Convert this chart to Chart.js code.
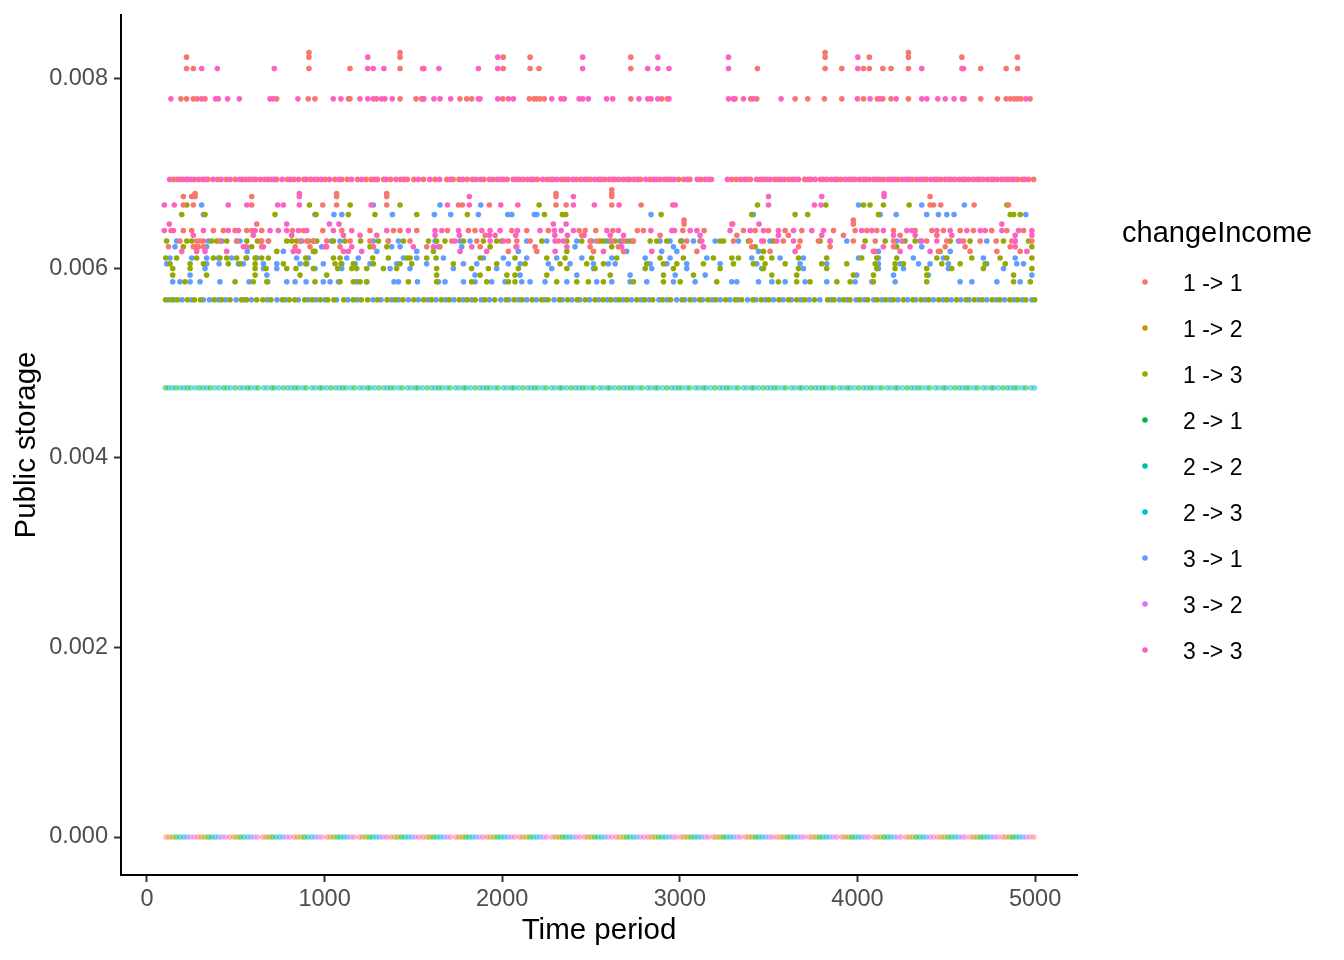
<!DOCTYPE html>
<html><head><meta charset="utf-8">
<script src="https://cdn.jsdelivr.net/npm/chart.js@4.4.1/dist/chart.umd.min.js"></script>
<style>html,body{margin:0;padding:0;background:#fff;overflow:hidden}canvas{display:block}</style>
</head><body>
<canvas id="c" width="1344" height="960" style="width:1344px;height:960px"></canvas>
<script>
// ---------- categories / legend ----------
const seriesNames = ["1 -> 1","1 -> 2","1 -> 3","2 -> 1","2 -> 2","2 -> 3","3 -> 1","3 -> 2","3 -> 3"];
const seriesColors = ["#F8766D","#D39200","#93AA00","#00BA38","#00C19F","#00B9E3","#619CFF","#DB72FB","#FF61C3"];
const legendTitle = "changeIncome";
const xTitle = "Time period";
const yTitle = "Public storage";
const xTicks = [0,1000,2000,3000,4000,5000];
const yTicks = [0,0.002,0.004,0.006,0.008];

// ---------- series values: rows of [public storage, [time periods]] ----------
const pts_1to1 = [
 [0.00828,[912,1425,3818,4287]],
 [0.00823,[223,912,1425,2006,2157,2724,3818,4067,4287,4588,4901]],
 [0.00811,[223,261,912,1143,1425,1559,2006,2157,2207,2724,3437,3818,3912,4034,4067,4143,4189,4287,4588,4694,4837,4901]],
 [0.00779,[191,223,261,283,327,730,908,946,1134,1143,1293,1425,1515,1547,1559,1762,1800,1828,2003,2153,2179,2194,2213,2237,2724,2898,2930,3305,3311,3399,3433,3649,3720,3814,3912,4034,4112,4143,4189,4287,4591,4694,4788,4837,4860,4882,4901,4920,4972]],
 [0.00694,[150,172,204,233,268,312,343,398,447,497,538,577,612,662,703,731,792,828,884,921,962,1003,1058,1097,1128,1186,1233,1262,1298,1333,1372,1428,1466,1503,1557,1622,1688,1724,1757,1803,1852,1897,1948,1993,2028,2081,2118,2163,2198,2252,2287,2333,2372,2418,2463,2497,2543,2578,2623,2657,2703,2742,2778,2832,2868,2912,2948,2993,3022,3057,3118,3163,3292,3318,3363,3398,3452,3487,3533,3568,3612,3648,3703,3738,3792,3828,3873,3908,3952,3988,4033,4068,4112,4148,4192,4228,4273,4308,4352,4388,4433,4468,4512,4548,4592,4628,4673,4708,4752,4788,4833,4868,4902,4928,4963,4992]],
 [0.00683,[2617]],
 [0.00679,[271,1068,1350,2303,2617]],
 [0.00676,[205,252,271,590,1068,1350,2303,2617,4409]],
 [0.00667,[205,261,590,990,1068,1350,1754,1776,1928,2303,2360,2617,2782,4409,4428,4469,4657,4850]],
 [0.00651,[3024,3977]],
 [0.00647,[618,3024,3298,3977]],
 [0.00640,[136,205,252,374,430,496,562,590,646,819,881,990,1097,1256,1388,1425,1519,1692,1810,1847,2054,2138,2260,2433,2467,2527,2623,2761,2795,3017,3137,3358,3424,3499,3593,3687,3865,3987,4053,4109,4203,4325,4419,4484,4578,4653,4756,4841,4935]],
 [0.00635,[1904,2448,2889,3321,3611,3921,4240,4447]],
 [0.00629,[186,280,299,318,411,505,646,684,862,900,937,1012,1144,1256,1359,1481,1716,1857,2035,2082,2157,2317,2495,2532,2739,3039,3302,3396,3471,3583,3677,3780,3977,4100,4203,4390,4503,4597,4691,4781,4869,4982]],
 [0.00623,[121,261,289,318,646,834,918,1012,1087,1275,1575,1650,1876,2078,2185,2495,2654,3020,3133,3405,3668,3846,4203,4494,4606,4860]],
 [0.00618,[2035,2195,2514,2683,3096,3508,4100,4456,4634,4785,4916]]
];
const pts_3to3 = [
 [0.00823,[1243,1975,2453,2876,3274,4002]],
 [0.00811,[308,396,717,1243,1274,1334,1552,1644,1866,1975,2453,2819,2876,2939,3274,4002,4362,4597]],
 [0.00779,[135,308,387,402,454,520,693,711,850,1049,1092,1199,1243,1274,1321,1340,1381,1556,1616,1650,1710,1866,1875,1975,2035,2063,2279,2331,2350,2433,2453,2485,2588,2622,2770,2819,2838,2876,2939,3274,3302,3358,3414,3570,4000,4071,4127,4218,4362,4391,4452,4494,4544,4601,4948]],
 [0.00694,[128,188,222,251,291,328,372,418,468,522,558,597,638,681,718,762,808,853,898,943,982,1028,1082,1152,1208,1281,1348,1402,1448,1528,1592,1648,1708,1778,1832,1878,1928,1972,2008,2062,2098,2142,2178,2228,2272,2308,2352,2398,2442,2478,2522,2558,2602,2638,2682,2718,2762,2808,2852,2888,2932,2968,3042,3098,3142,3178,3268,3342,3378,3432,3472,3508,3552,3588,3632,3668,3722,3762,3808,3852,3888,3932,3968,4012,4048,4092,4128,4172,4208,4252,4288,4332,4368,4412,4448,4492,4528,4572,4608,4652,4688,4732,4768,4812,4848,4882,4942]],
 [0.00679,[858,4150]],
 [0.00676,[858,1815,2401,3499,3799,4150]],
 [0.00667,[98,154,458,562,736,768,858,1262,1692,1815,1992,2088,2401,2519,2658,2960,2974,3499,3758,3795]],
 [0.00647,[126,787,1027,1081,2288,2360,3293,3446,4813]],
 [0.00640,[98,149,318,458,515,609,693,740,787,853,900,1050,1153,1350,1472,1622,1660,1754,1885,1932,1988,2086,2213,2294,2332,2401,2589,2654,2837,2955,2970,3058,3096,3283,3396,3471,3555,3640,3743,3809,4024,4081,4146,4278,4306,4447,4522,4616,4691,4719,4813,4907,4982]],
 [0.00635,[261,599,815,1106,1200,1294,1622,1759,1928,1960,2076,2296,2367,2461,2608,2683,3114,3555,3799,4203,4325,4531,4888,4982]],
 [0.00629,[1735,1932,2007,2298,2345,2617,2683,3124,3461,3546,3640,3846,4250,4362,4447,4578,4888]],
 [0.00623,[543,562,656,1003,1153,1500,1613,1829,2082,2364,2673,3133,4034,4146,4296,4888]],
 [0.00618,[196,280,327,449,824,853,1106,1134,1209,1763,1913,2298,2570,2842,3649,4090,4240,4409,4954]]
];
const pts_1to3 = [
 [0.00667,[224,915,1144,1425,2208,3437,3822,4034,4071,4146,4291,4841]],
 [0.00657,[196,327,721,952,1134,1284,1519,1804,2238,2339,2358,2895,3405,3649,3720,4118,4860,4879,4916]],
 [0.00629,[111,224,252,364,393,449,562,622,641,787,815,843,909,956,1050,1115,1203,1303,1359,1444,1585,1631,1678,1782,1894,1969,1997,2223,2364,2448,2551,2570,2608,2636,2673,2701,2735,2833,2870,2927,3005,3114,3227,3246,3386,3527,3790,3846,4043,4156,4268,4325,4522,4634,4822,4963]],
 [0.00623,[205,271,590,1256,1350,1932,2617,3424,4221,4982]],
 [0.00618,[731,937,946,1613,2364,3471,4465]],
 [0.00611,[106,167,280,374,411,449,505,558,609,646,684,894,1050,1087,1271,1359,1463,1481,1575,1628,1876,2072,2251,2354,2504,2645,2889,3020,3189,3293,3330,3461,3518,3668,3827,4024,4109,4221,4447,4503,4644,4803,4982]],
 [0.00605,[130,243,318,458,524,609,768,894,1059,1093,1162,1275,1425,1491,1725,1969,2129,2326,2476,2570,2814,2908,2983,3133,3302,3414,3480,3593,3799,3940,4100,4212,4259,4475,4578,4719,4832]],
 [0.00600,[145,243,609,671,787,839,937,1074,1153,1181,1237,1331,1406,1631,1828,1922,2091,2364,2523,2805,2964,3227,3471,3668,3827,4109,4212,4390,4531,4709,4982]],
 [0.00593,[145,336,609,862,1012,1631,1876,2026,2072,2251,2608,2908,3077,3518,3658,3977,4090,4390,4879]],
 [0.00586,[214,496,599,675,946,1087,1162,1200,1237,1472,1631,1828,1913,2035,2072,2307,2420,2485,2570,2739,2908,3002,3208,3555,3658,3733,3884,3959,4090,4390,4879,4973]],
 [0.00567,[105,140,172,228,268,302,378,421,468,532,561,618,652,698,762,801,832,888,931,976,1018,1052,1108,1162,1207,1242,1298,1352,1398,1442,1502,1558,1603,1658,1702,1758,1803,1848,1902,1958,2022,2068,2112,2168,2222,2258,2322,2368,2422,2468,2522,2568,2612,2658,2702,2758,2802,2848,2902,2948,3012,3058,3112,3158,3202,3258,3312,3348,3412,3458,3502,3558,3612,3658,3702,3758,3832,3868,3922,3958,4012,4058,4112,4158,4202,4258,4312,4358,4402,4458,4502,4558,4612,4658,4702,4758,4802,4858,4902,4948,4998]]
];
const pts_3to1 = [
 [0.00667,[308,1275,1650,1879,4006,4362,4602]],
 [0.00657,[318,946,1053,1097,1382,1618,1710,1866,2031,2054,2181,2195,2838,3414,4128,4218,4390,4456,4503,4544,4948]],
 [0.00629,[167,346,421,505,524,684,871,937,1040,1087,1275,1416,1622,1763,1819,2138,2251,2420,2504,2589,2664,2720,2889,2945,3011,3077,3199,3330,3508,3940,4221,4353,4569,4728,4888]],
 [0.00623,[158,336,984,1378,1425,1641,1772,2410,2964,4362]],
 [0.00618,[565,768,1294,1519,2091,2701,2898,2983,3443,4118,4522]],
 [0.00611,[130,252,336,402,477,562,618,843,909,1125,1190,1444,1519,1669,1894,2007,2138,2307,2448,2617,2805,2945,3152,3405,3565,3696,4006,4118,4315,4484,4709,4888]],
 [0.00605,[112,336,406,515,543,656,731,862,900,993,1097,1172,1256,1406,1575,1782,1857,2035,2101,2260,2382,2514,2598,2636,2833,2927,3039,3227,3433,3677,3827,4118,4240,4344,4409,4512,4728,4897,4935]],
 [0.00600,[327,656,731,946,1097,1369,1481,1725,1969,2279,2514,2842,3039,3461,3696,4118,4259,4512,4822]],
 [0.00593,[243,675,1847,2101,2420,2720,2974,3143,3996,4203,4399,4982]],
 [0.00586,[145,186,243,299,411,575,680,787,834,896,993,1031,1078,1181,1237,1391,1416,1523,1641,1678,1782,1847,1941,2016,2110,2157,2241,2364,2532,2617,2720,2814,2964,3086,3292,3321,3443,3518,3593,3705,3827,3987,4081,4212,4578,4644,4785,4916]],
 [0.00567,[121,153,198,252,318,352,402,443,502,547,588,678,732,778,852,908,952,1002,1068,1132,1183,1272,1318,1377,1418,1472,1528,1582,1628,1682,1728,1782,1828,1882,1928,1992,2038,2092,2138,2192,2238,2292,2338,2392,2438,2492,2543,2592,2638,2682,2728,2782,2828,2882,2928,2982,3028,3082,3128,3182,3228,3282,3328,3382,3428,3482,3528,3582,3628,3682,3728,3788,3852,3898,3942,3992,4038,4092,4138,4182,4228,4282,4328,4382,4428,4482,4528,4582,4628,4682,4728,4782,4828,4882,4928,4982]]
];
// faint rows (public storage 0.00474 and 0)
const pts_2to1_faint = [
 [0.00474,[104,163,228,296,357,433,498,566,627,703,768,834,897,972,1037,1103,1168,1243,1307,1372,1438,1512,1578,1643,1707,1783,1848,1913,1977,2052,2117,2183,2248,2323,2388,2452,2517,2593,2658,2723,2788,2862,2927,2993,3057,3132,3197,3263,3328,3403,3468,3532,3597,3673,3738,3803,3867,3942,4007,4073,4138,4213,4278,4342,4407,4483,4548,4613,4677,4753,4818,4883,4948]],
 [0,[166,346,527,707,887,1071,1252,1432,1613,1795,1972,2156,2340,2521,2701,2881,3063,3245,3426,3606,3786,3968,4150,4331,4512,4693,4874]]
];
const pts_2to2_faint = [
 [0.00474,[122,187,248,318,383,452,523,583,657,718,792,853,928,988,1062,1122,1197,1258,1333,1392,1467,1528,1603,1662,1737,1798,1873,1932,2007,2068,2143,2202,2277,2338,2412,2472,2547,2608,2682,2742,2817,2878,2952,3012,3087,3148,3222,3282,3357,3418,3492,3552,3627,3688,3762,3822,3897,3958,4032,4092,4167,4228,4302,4362,4437,4498,4572,4632,4707,4768,4842,4902,4977]],
 [0,[187,365,546,727,906,1090,1271,1452,1632,1814,1992,2175,2359,2540,2720,2901,3083,3264,3445,3625,3806,3987,4169,4351,4531,4712,4893]]
];
const pts_2to3_faint = [
 [0.00474,[142,207,272,338,407,472,542,608,677,742,812,878,947,1012,1083,1148,1217,1282,1352,1418,1487,1552,1622,1688,1757,1822,1892,1958,2027,2092,2162,2228,2297,2362,2432,2498,2567,2632,2702,2768,2837,2902,2972,3038,3107,3172,3242,3308,3377,3442,3512,3578,3647,3712,3782,3848,3917,3982,4052,4118,4187,4252,4322,4388,4457,4522,4592,4658,4727,4792,4862,4928,4997]],
 [0,[206,384,566,746,926,1109,1291,1471,1651,1833,2011,2195,2378,2560,2740,2920,3102,3283,3464,3644,3825,4007,4188,4370,4551,4731,4912]]
];
const pts_1to1_faint = [[0,[108,287,466,652,828,1013,1196,1372,1553,1738,1914,2097,2281,2463,2642,2821,3006,3187,3368,3546,3728,3911,4093,4274,4452,4636,4817,4993]]];
const pts_1to2_faint = [[0,[127,306,489,671,847,1032,1214,1393,1576,1757,1933,2116,2302,2482,2661,2842,3025,3206,3387,3567,3748,3930,4112,4293,4473,4655,4836]]];
const pts_1to3_faint = [[0,[146,326,508,688,868,1051,1233,1412,1594,1776,1953,2136,2321,2501,2682,2861,3044,3226,3406,3586,3767,3949,4131,4312,4492,4674,4855]]];
const pts_3to1_faint = [[0,[226,404,585,765,946,1128,1310,1491,1671,1852,2031,2214,2397,2579,2759,2940,3121,3302,3484,3664,3844,4026,4208,4389,4570,4751,4932]]];
const pts_3to2_faint = [[0,[246,423,604,784,965,1148,1329,1510,1690,1871,2050,2233,2416,2598,2778,2959,3141,3322,3503,3683,3864,4045,4227,4408,4589,4770,4951]]];
const pts_3to3_faint = [[0,[266,443,623,803,985,1167,1348,1530,1709,1891,2070,2252,2436,2618,2798,2979,3160,3341,3522,3702,3883,4064,4246,4428,4608,4790,4971]]];

// ---------- build chart ----------
const FAMILY = '"Liberation Sans", Arial, Helvetica, sans-serif';
function toPoints(rows){ return rows.flatMap(([v, ts]) => ts.map(t => ({x: t, y: v}))); }
function hexA(hex, a){
  const n = parseInt(hex.slice(1), 16);
  return `rgba(${(n>>16)&255},${(n>>8)&255},${n&255},${a})`;
}
const faintRows = [pts_1to1_faint, pts_1to2_faint, pts_1to3_faint, pts_2to1_faint, pts_2to2_faint, pts_2to3_faint, pts_3to1_faint, pts_3to2_faint, pts_3to3_faint];
const solidRows = {0: pts_1to1, 2: pts_1to3, 6: pts_3to1, 8: pts_3to3};
const R = 2.8;

const datasets = [];
[8, 0, 2, 6].forEach(i => {
  datasets.push({label: seriesNames[i], data: toPoints(solidRows[i]),
    backgroundColor: seriesColors[i], pointRadius: R, pointBorderWidth: 0, pointHoverRadius: R});
});
faintRows.forEach((rows, i) => {
  datasets.push({label: seriesNames[i] + ' (faint)', data: toPoints(rows),
    backgroundColor: hexA(seriesColors[i], 0.5), pointRadius: R, pointBorderWidth: 0, pointHoverRadius: R});
});

const legendPlugin = {
  id: 'ggLegend',
  afterDraw(chart){
    const ctx = chart.ctx;
    ctx.save();
    ctx.textAlign = 'left';
    ctx.textBaseline = 'alphabetic';
    ctx.fillStyle = '#000';
    ctx.font = `29px ${FAMILY}`;
    ctx.fillText(legendTitle, 1122, 242);
    ctx.font = `23px ${FAMILY}`;
    seriesNames.forEach((name, i) => {
      const cy = 282 + i * 46;
      ctx.fillStyle = seriesColors[i];
      ctx.beginPath(); ctx.arc(1145, cy, R, 0, Math.PI * 2); ctx.fill();
      ctx.fillStyle = '#000';
      ctx.fillText(name, 1183, cy + 8.5);
    });
    ctx.restore();
  }
};
const bgPlugin = {
  id: 'bg',
  beforeDraw(chart){ const c = chart.ctx; c.save(); c.fillStyle = '#fff'; c.fillRect(0,0,chart.width,chart.height); c.restore(); }
};

new Chart(document.getElementById('c'), {
  type: 'scatter',
  data: {datasets},
  options: {
    responsive: false, animation: false, devicePixelRatio: 1,
    layout: {padding: {left: 0, right: 267, top: 15, bottom: 0}},
    plugins: {legend: {display: false}, tooltip: {enabled: false}, title: {display: false}},
    scales: {
      x: {
        type: 'linear', min: -146, max: 5236,
        afterBuildTicks: s => { s.ticks = xTicks.map(v => ({value: v})); },
        afterFit: s => { s.height = 85; s.paddingLeft = 0; s.paddingRight = 0; },
        grid: {display: true, drawOnChartArea: false, drawTicks: true, tickLength: 7, tickWidth: 2, tickColor: '#333333'},
        border: {display: true, color: '#000', width: 2},
        ticks: {color: '#4D4D4D', font: {size: 23.5, family: FAMILY}, padding: 3, maxRotation: 0, autoSkip: false, callback: v => String(v)},
        title: {display: true, text: xTitle, color: '#000', font: {size: 29.5, family: FAMILY}, padding: {top: 0, bottom: 11}}
      },
      y: {
        type: 'linear', min: -0.000401, max: 0.008675,
        afterBuildTicks: s => { s.ticks = yTicks.map(v => ({value: v})); },
        afterFit: s => { s.width = 121; s.paddingTop = 0; s.paddingBottom = 0; },
        grid: {display: true, drawOnChartArea: false, drawTicks: true, tickLength: 7, tickWidth: 2, tickColor: '#333333'},
        border: {display: true, color: '#000', width: 2},
        ticks: {color: '#4D4D4D', font: {size: 23.5, family: FAMILY}, padding: 6, autoSkip: false, callback: v => Number(v).toFixed(3)},
        title: {display: true, text: yTitle, color: '#000', font: {size: 29.5, family: FAMILY}, padding: {top: 9, bottom: 0}}
      }
    }
  },
  plugins: [bgPlugin, legendPlugin]
});
</script>
</body></html>
